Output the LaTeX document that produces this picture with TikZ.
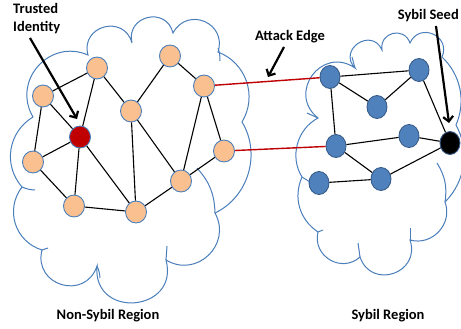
\documentclass[tikz,border=0pt]{standalone}
\usepackage{fontspec}
\setmainfont{Carlito}
\usepackage{tikz}
\usetikzlibrary{arrows.meta,shapes.geometric}

\definecolor{cloudblue}{HTML}{4A7EBB}
\definecolor{peach}{HTML}{FAC090}
\definecolor{trustred}{HTML}{C00000}
\definecolor{sybfill}{HTML}{4F81BD}
\definecolor{sybline}{HTML}{385D8A}

\begin{document}
\begin{tikzpicture}[x=1pt,y=-1pt,
    cloudline/.style={draw=cloudblue,line width=1pt},
    honest/.style={ellipse,draw=cloudblue,fill=peach,line width=0.9pt,minimum width=21pt,minimum height=22pt,inner sep=0pt},
    trusted/.style={honest,fill=trustred},
    sybil/.style={ellipse,draw=sybline,fill=sybfill,line width=0.9pt,minimum width=20pt,minimum height=23pt,inner sep=0pt},
    seed/.style={sybil,fill=black},
    link/.style={black,line width=1.1pt},
    attack/.style={draw=trustred,line width=1.4pt},
    pointer/.style={-{Straight Barb[length=5pt,width=10pt]},line width=2.2pt},
    txt/.style={font=\fontsize{14.5}{18}\selectfont\bfseries,inner sep=0pt}]
\useasboundingbox (0,0) rectangle (461,329);

% non-Sybil cloud
\draw[cloudline] (33,117) to[bend left=72,looseness=1.3] (88,55)
  to[bend left=90,looseness=1.7] (132,43) to[bend left=90,looseness=1.7] (173,33)
  to[bend left=85,looseness=1.6] (218,52) to[bend left=50,looseness=1.05] (242,122)
  to[bend left=48,looseness=1] (215,213) to[bend left=75,looseness=1.35] (166,260)
  to[bend left=100,looseness=2] (97,266) to[bend left=88,looseness=1.65] (42,250)
  to[bend left=55,looseness=1.1] (22,187) to[bend left=50,looseness=1.05] (33,117);
\draw[cloudline] (197,168) to[bend left=20] (215,213);
\draw[cloudline] (167,246) -- (166,260);
\draw[cloudline] (97,266) to[bend left=10] (100,278);
\draw[cloudline] (42,250) -- (48,248);
\draw[cloudline] (22,187) to[bend right=10] (35,190);
\draw[cloudline] (218,48) to[bend left=10] (220,61);

% Sybil cloud
\draw[cloudline] (302,177) to[bend left=47,looseness=1] (318,118)
  to[bend left=88,looseness=1.65] (355,68) to[bend left=100,looseness=2] (382,50)
  to[bend left=85,looseness=1.6] (410,43) to[bend left=90,looseness=1.7] (442,57)
  to[bend left=35,looseness=0.95] (456,125) to[bend left=37,looseness=0.95] (445,202)
  to[bend left=63,looseness=1.15] (410,240) to[bend left=90,looseness=1.7] (360,257)
  to[bend left=73,looseness=1.3] (318,232) to[bend left=40,looseness=1] (302,177);
\draw[cloudline] (307,113) -- (318,118);
\draw[cloudline] (352,57) -- (355,68);
\draw[cloudline] (437,163) to[bend left=20] (445,202);
\draw[cloudline] (410,228) -- (410,240);
\draw[cloudline] (358,243) -- (360,257);
\draw[cloudline] (318,232) -- (323,230);
\draw[cloudline] (302,177) -- (310,182);

% honest nodes
\node[honest] (h1) at (43,96) {};
\node[honest] (h2) at (97,68) {};
\node[honest] (h3) at (170,56) {};
\node[honest] (h4) at (204,86) {};
\node[honest] (h5) at (131,111) {};
\node[trusted] (t) at (80,137) {};
\node[honest] (h6) at (33,162) {};
\node[honest] (h7) at (224,151) {};
\node[honest] (h8) at (181,181) {};
\node[honest] (h9) at (74,206) {};
\node[honest] (h10) at (136,212) {};

% sybil nodes
\node[sybil] (s1) at (330,77) {};
\node[sybil] (s2) at (419,70) {};
\node[sybil] (s3) at (377,107) {};
\node[sybil] (s4) at (409,136) {};
\node[sybil] (s5) at (336,146) {};
\node[seed] (sd) at (450,143) {};
\node[sybil] (s6) at (319,183) {};
\node[sybil] (s7) at (381,179) {};

\foreach \u/\v in {h1/h2,h1/t,h1/h6,h2/t,t/h9,h2/h5,h3/h5,h3/h4,h4/h8,h4/h7,
    h5/h10,h5/h8,t/h6,t/h10,h6/h9,h9/h10,h10/h8,h8/h7}
  \draw[link] (\u) -- (\v);
\foreach \u/\v in {s1/s2,s1/s3,s3/s2,s1/s5,s2/sd,s5/s4,s4/sd,s5/s7,s6/s7,s7/sd}
  \draw[link] (\u) -- (\v);

% attack edges
\draw[attack] (h4) -- (s1);
\draw[attack] (h7) -- (s5);

% labels
\node[txt,align=left,anchor=west] (trustlbl) at (13,19) {Trusted\\Identity};
\node[txt] (attacklbl) at (290,37) {Attack Edge};
\node[txt,anchor=east] (seedlbl) at (459,16) {Sybil Seed};
\node[txt] (leftlbl) at (108,316) {Non-Sybil Region};
\node[txt] (rightlbl) at (388,316) {Sybil Region};

% pointers
\coordinate (trustfoot) at (30,38);
\coordinate (trusttip) at (77,119);
\coordinate (attackfoot) at (284,47);
\coordinate (attacktip) at (268,77);
\coordinate (seedfoot) at (436,26);
\coordinate (seedtip) at (449,123);
\draw[pointer] (trustfoot) -- (trusttip);
\draw[pointer] (attackfoot) -- (attacktip);
\draw[pointer] (seedfoot) -- (seedtip);
\end{tikzpicture}
\end{document}
